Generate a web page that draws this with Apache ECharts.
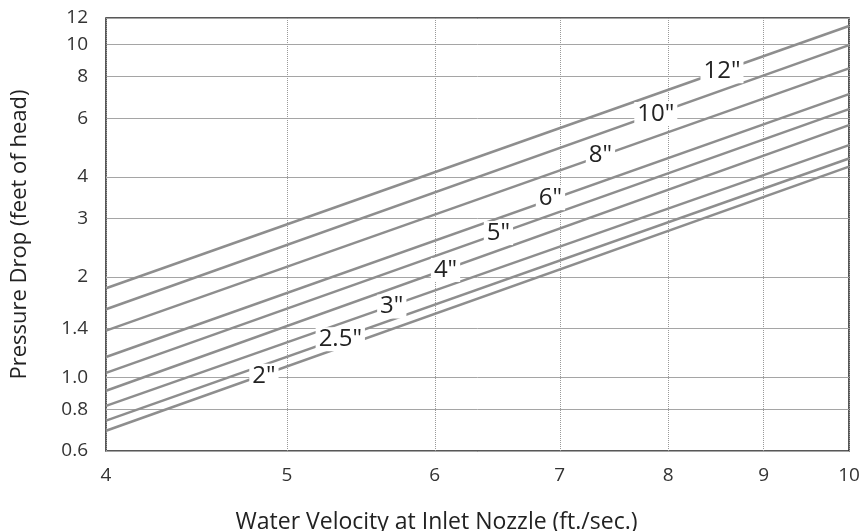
<!DOCTYPE html>
<html>
<head>
<meta charset="utf-8">
<script src="https://cdn.jsdelivr.net/npm/echarts@6/dist/echarts.min.js"></script>
<style>
  html, body { margin: 0; padding: 0; background: #fff; }
  #chart { width: 859px; height: 531px; }
</style>
</head>
<body>
<div id="chart"></div>
<script>
// pipe sizes, top line first
const sizes = ['12"', '10"', '8"', '6"', '5"', '4"', '3"', '2.5"', '2"']
// pressure drop read at 4 ft/s and at 10 ft/s
const dropAt4 = [1.85, 1.60, 1.38, 1.15, 1.03, 0.91, 0.82, 0.74, 0.69]
const dropAt10 = [11.35, 9.95, 8.47, 7.09, 6.39, 5.72, 4.98, 4.54, 4.29]
// where each size label sits on its line
const labelX = [8.55, 7.88, 7.36, 6.92, 6.49, 6.08, 5.69, 5.34, 4.86]
const labelY = [8.3, 6.18, 4.64, 3.45, 2.71, 2.1, 1.63, 1.3, 1.01]

const xTicks = [4, 5, 6, 7, 8, 9, 10]
const yTicks = [0.6, 0.8, 1, 1.4, 2, 3, 4, 6, 8, 10, 12]
const yTickLabels = ['0.6', '0.8', '1.0', '1.4', '2', '3', '4', '6', '8', '10', '12']

const font = '"Open Sans", "Noto Sans", sans-serif'
const chart = echarts.init(document.getElementById('chart'))

const series = sizes.map((name, i) => ({
  name,
  type: 'line',
  data: [[4, dropAt4[i]], [10, dropAt10[i]]],
  symbol: 'none',
  silent: true,
  lineStyle: { color: '#8e8e8e', width: 2.5 },
  markPoint: {
    symbol: 'circle',
    symbolSize: 0,
    silent: true,
    data: [{ coord: [labelX[i], labelY[i]], value: name }],
    label: {
      show: true,
      position: 'inside',
      formatter: name,
      color: '#222',
      fontFamily: font,
      fontSize: 24,
      backgroundColor: '#fff',
      padding: [0, 3]
    }
  }
}))

const option = {
  backgroundColor: '#fff',
  animation: false,
  grid: {
    left: 106,
    right: 10,
    top: 18,
    bottom: 80,
    outerBoundsMode: 'none',
    containLabel: false,
    show: true,
    borderColor: '#222',
    borderWidth: 1.5,
    backgroundColor: 'transparent'
  },
  xAxis: {
    type: 'log',
    min: 4,
    max: 10,
    name: 'Water Velocity at Inlet Nozzle (ft./sec.)',
    nameLocation: 'middle',
    nameGap: 60,
    nameTextStyle: { color: '#222', fontFamily: font, fontSize: 23, padding: [0, 82, 0, 0] },
    axisLine: { show: false },
    axisTick: { show: false, customValues: xTicks },
    axisLabel: {
      customValues: xTicks,
      color: '#333',
      fontFamily: font,
      fontSize: 19,
      margin: 15
    },
    splitLine: { show: true, lineStyle: { color: '#999', width: 1, type: 'dotted' } }
  },
  yAxis: {
    type: 'log',
    min: 0.6,
    max: 12,
    name: 'Pressure Drop (feet of head)',
    nameLocation: 'middle',
    nameGap: 75,
    nameTextStyle: { color: '#222', fontFamily: font, fontSize: 22 },
    axisLine: { show: false },
    axisTick: { show: false, customValues: yTicks },
    axisLabel: {
      customValues: yTicks,
      formatter: v => yTickLabels[yTicks.findIndex(t => Math.abs(t - v) < 1e-6)],
      color: '#333',
      fontFamily: font,
      fontSize: 19,
      margin: 18
    },
    splitLine: { show: true, lineStyle: { color: '#a5a5a5', width: 1 } }
  },
  series
}

chart.setOption(option)
</script>
</body>
</html>
